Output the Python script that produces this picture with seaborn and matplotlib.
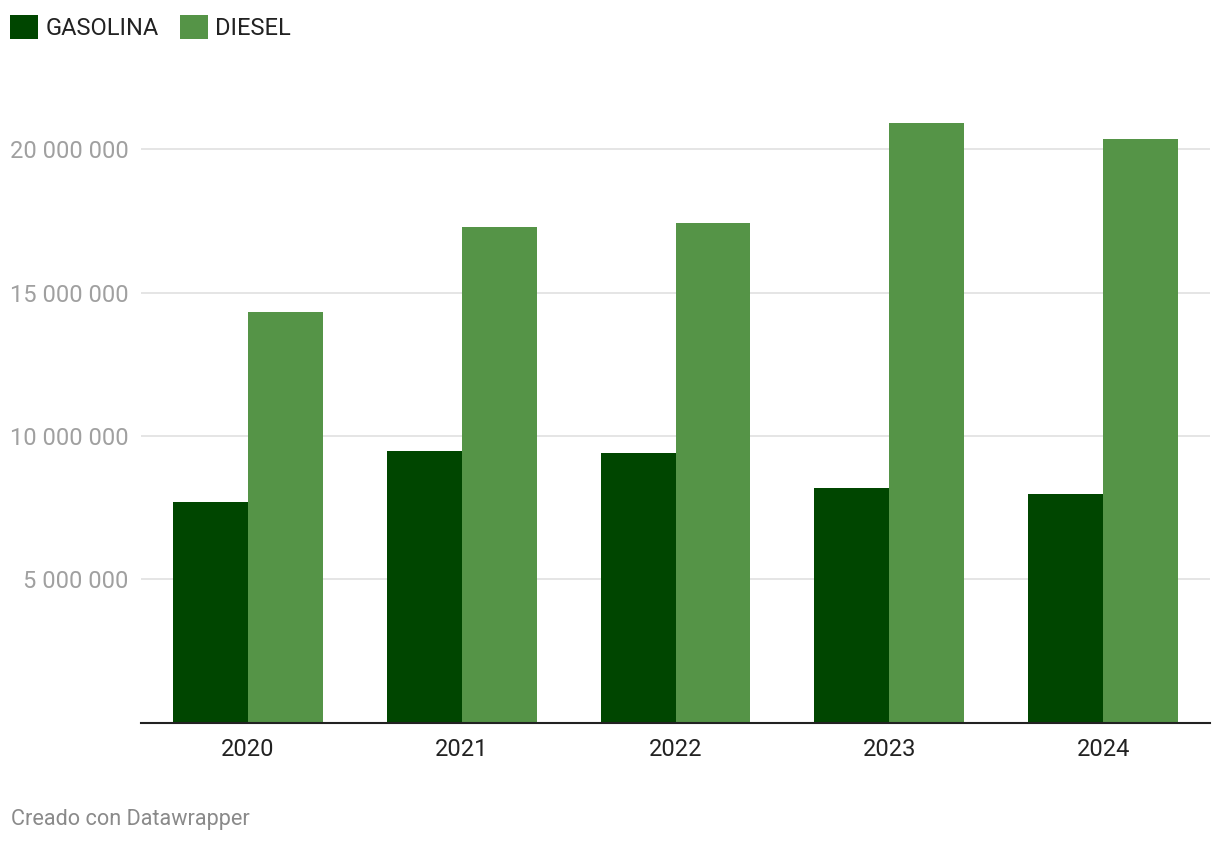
import pandas as pd
import seaborn as sns
import matplotlib.pyplot as plt
from matplotlib.ticker import FuncFormatter

# Values
years = ["2020", "2021", "2022", "2023", "2024"]
gasolina = [7680000, 9490000, 9420000, 8180000, 7970000]
diesel = [14310000, 17280000, 17420000, 20920000, 20360000]
series_names = ["GASOLINA", "DIESEL"]
y_ticks = [5000000, 10000000, 15000000, 20000000]

# Long form table for seaborn
df = pd.DataFrame({
    "year": years * 2,
    "value": gasolina + diesel,
    "fuel": [series_names[0]] * len(years) + [series_names[1]] * len(years),
})

sns.set_style("white")
plt.rcParams["font.family"] = ["Roboto", "DejaVu Sans"]

fig = plt.figure(figsize=(12.2, 8.44), dpi=100)
ax = fig.add_axes([141 / 1220, 121.5 / 844, 1069 / 1220, 630.5 / 844])

palette = {"GASOLINA": "#004600", "DIESEL": "#559447"}
sns.barplot(data=df, x="year", y="value", hue="fuel", palette=palette,
            width=0.7, gap=0, saturation=1, linewidth=0, ax=ax)

ax.set_xlim(-0.5, 4.5)
ax.set_ylim(0, 22000000)
ax.set_yticks(y_ticks)
ax.yaxis.set_major_formatter(FuncFormatter(lambda v, p: f"{int(v):,}".replace(",", " ")))
ax.grid(axis="y", color="#e5e5e5", linewidth=1.4)
ax.set_axisbelow(True)
ax.set_xlabel("")
ax.set_ylabel("")

for side in ["top", "right", "left"]:
    ax.spines[side].set_visible(False)
ax.spines["bottom"].set_color("#222222")
ax.spines["bottom"].set_linewidth(1.5)

ax.tick_params(axis="y", length=0, pad=9, labelsize=17, labelcolor="#a0a0a0")
ax.tick_params(axis="x", length=0, pad=11, labelsize=17, labelcolor="#222222")

# Legend at the top left of the figure
handles, labels = ax.get_legend_handles_labels()
ax.legend(handles, labels, ncol=2, frameon=False, loc="upper left",
          bbox_to_anchor=(10 / 1220, 1 - 15 / 844), bbox_transform=fig.transFigure,
          fontsize=17, handlelength=1.2, handleheight=1.2,
          handletextpad=0.3, columnspacing=0.9, borderpad=0, borderaxespad=0,
          labelcolor="#222222")

fig.text(11 / 1220, 1 - 820 / 844, "Creado con Datawrapper", fontsize=15.6,
         color="#8a8a8a", va="center", ha="left")

plt.savefig("out.png", dpi=100)
